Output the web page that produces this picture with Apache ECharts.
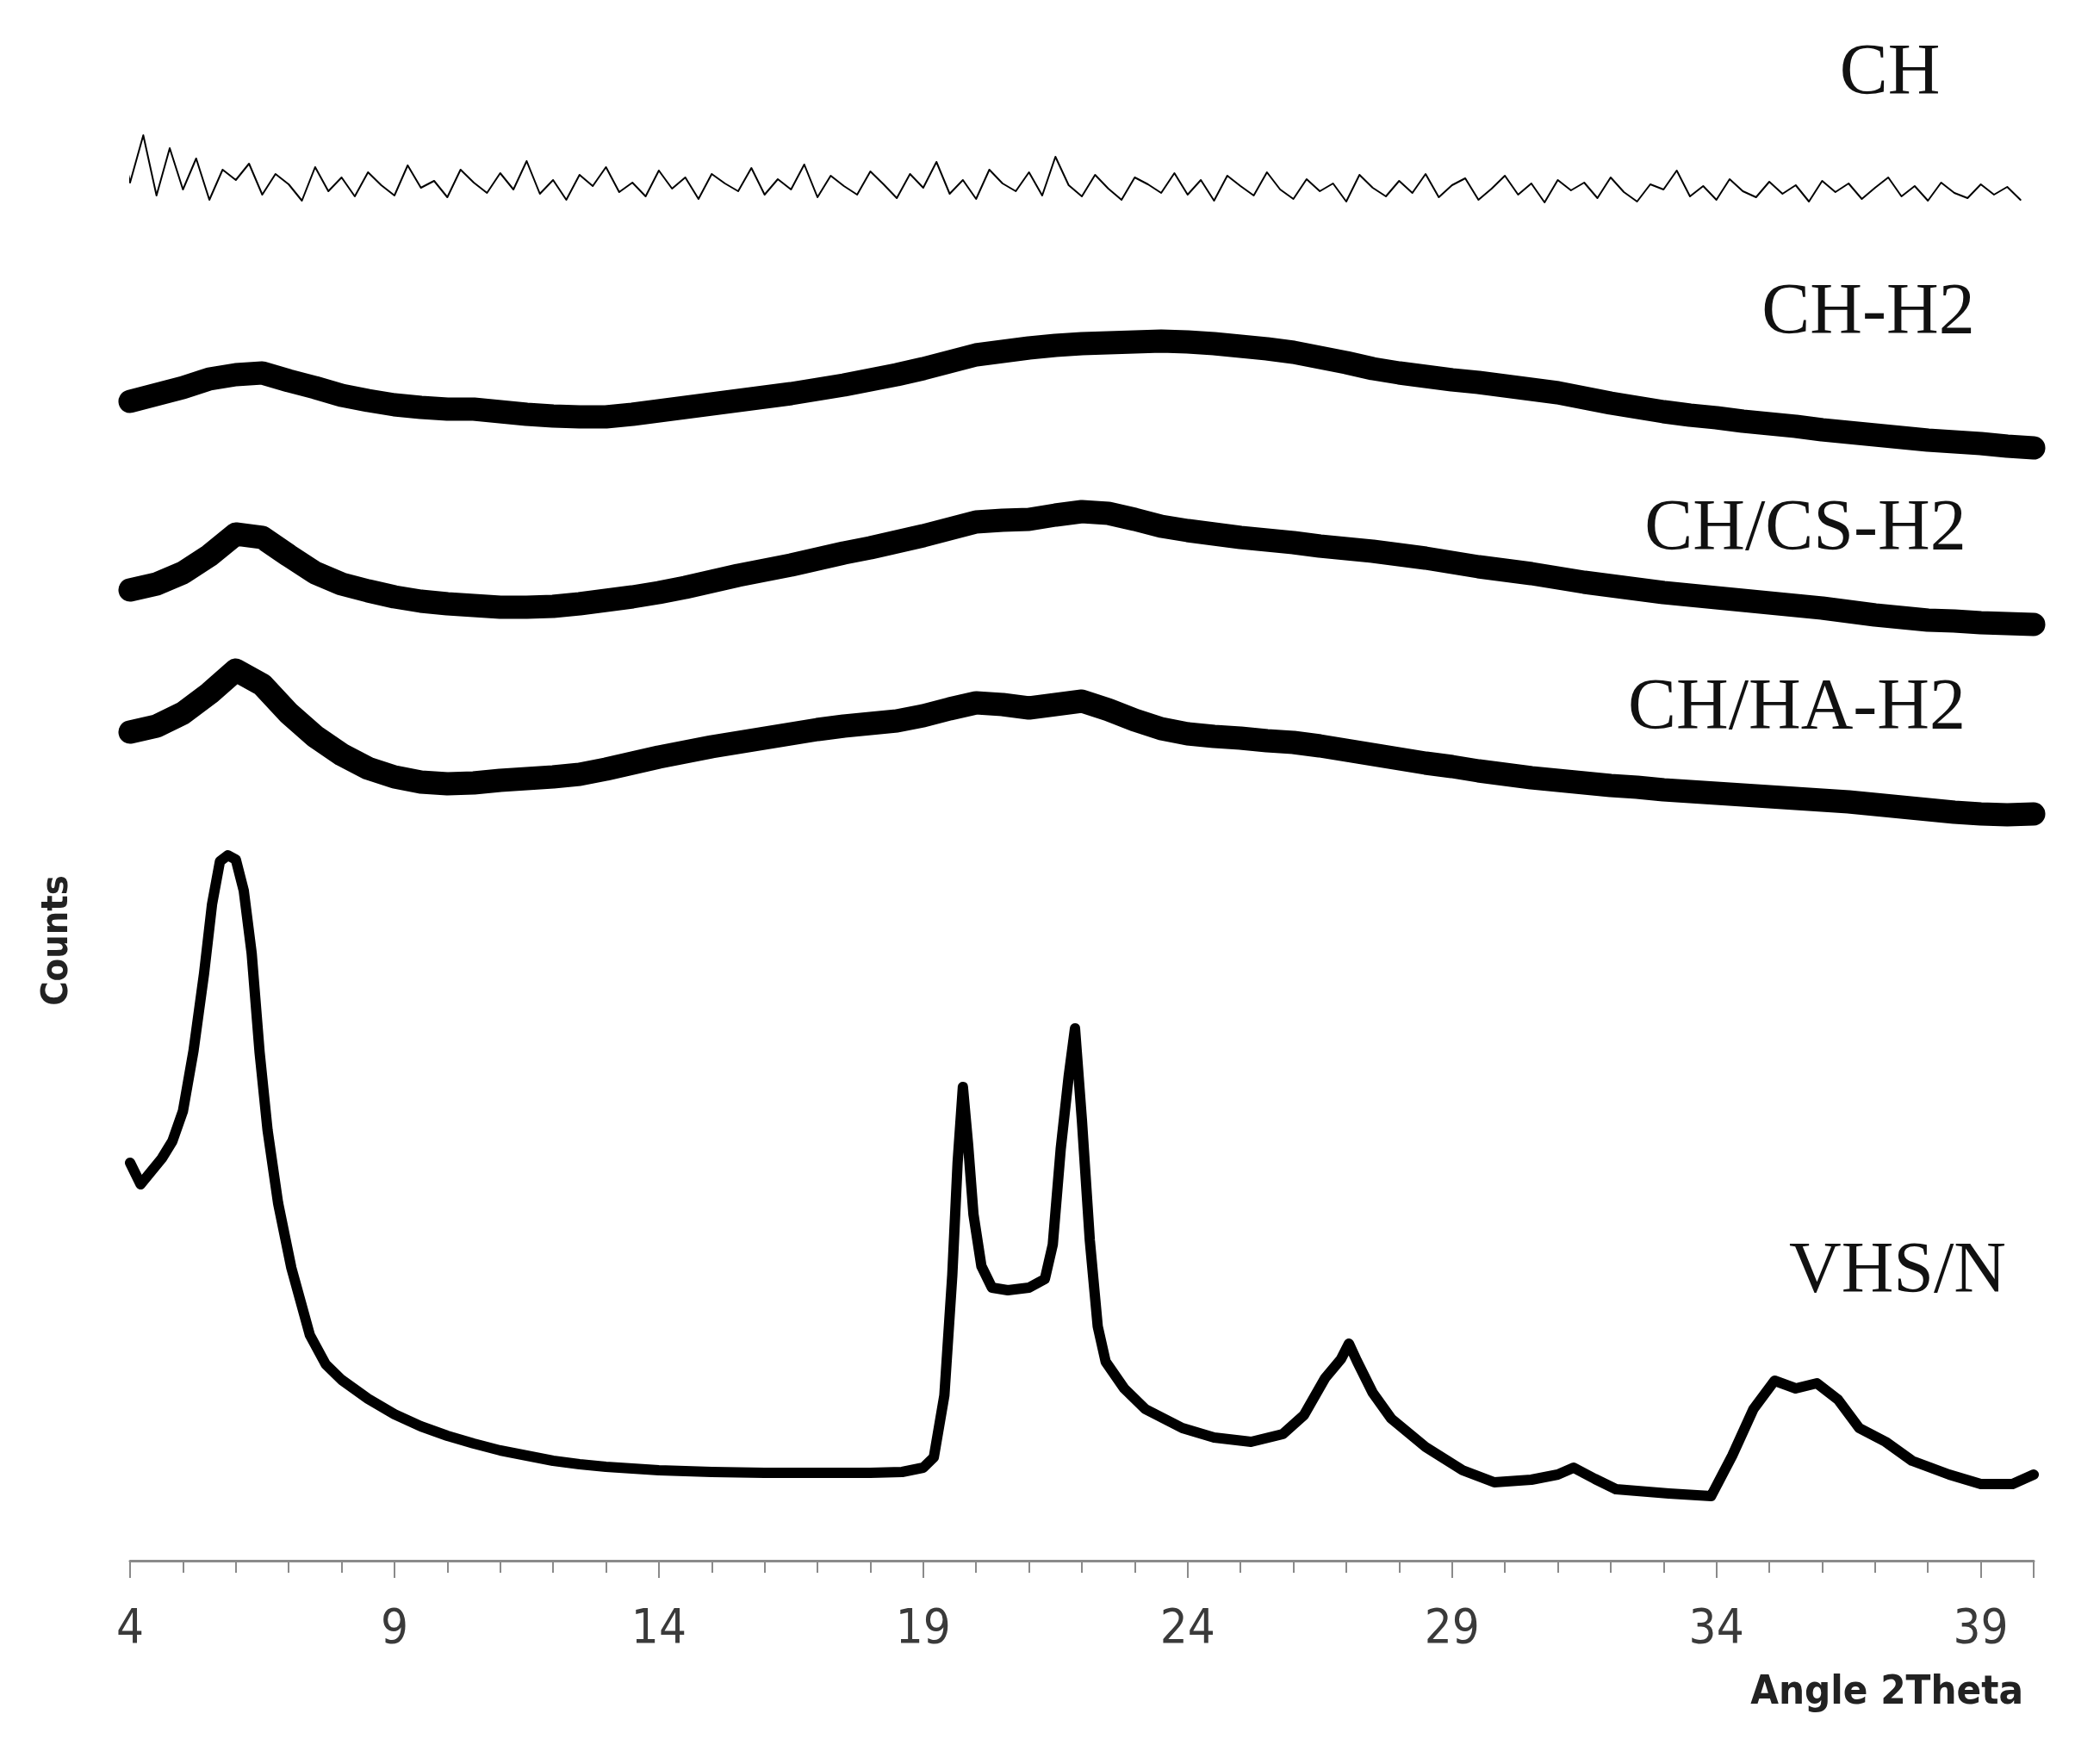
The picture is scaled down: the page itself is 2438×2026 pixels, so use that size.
<!DOCTYPE html>
<html>
<head>
<meta charset="utf-8">
<title>XRD</title>
<script src="https://cdn.jsdelivr.net/npm/echarts@6/dist/echarts.min.js"></script>
<style>
  html, body { margin: 0; padding: 0; background: #fff; }
  #main { width: 2438px; height: 2026px; }
</style>
</head>
<body>
<div id="main"></div>
<script>
// x ticks (2Theta)
var tickLabels = [4, 9, 14, 19, 24, 29, 34, 39];
var sampleNames = ["CH", "CH-H2", "CH/CS-H2", "CH/HA-H2", "VHS/N"];

// common 0.5 deg grid for the three hydrogel curves
var gridAngles = [];
for (var a = 4; a <= 40; a += 0.5) gridAngles.push(a);

// CH: 3.75 .. 39.75 every 0.25 deg (noisy flat trace)
var chStart = 3.75;
var chCounts = [1672,1600,1655,1585,1640,1592,1628,1580,1615,1603,
  1622,1586,1610,1598,1579,1618,1590,1606,1584,1612,
  1597,1585,1620,1594,1602,1583,1615,1600,1588,1611,
  1592,1625,1587,1603,1580,1609,1596,1618,1589,1600,
  1584,1614,1593,1606,1581,1610,1599,1590,1617,1586,
  1604,1592,1621,1583,1608,1596,1586,1613,1598,1582,
  1610,1594,1624,1587,1603,1581,1615,1599,1590,1612,
  1585,1630,1597,1584,1609,1593,1580,1606,1598,1588,
  1611,1586,1603,1579,1608,1596,1585,1612,1592,1581,
  1604,1590,1599,1578,1609,1594,1584,1602,1588,1610,
  1583,1597,1605,1580,1593,1608,1586,1599,1577,1603,
  1591,1600,1582,1606,1589,1578,1598,1592,1614,1584,
  1596,1580,1604,1590,1583,1601,1587,1597,1578,1602,
  1589,1599,1581,1594,1606,1584,1596,1579,1600,1588,
  1582,1598,1586,1595,1580];

var chH2Counts = [1346,1354,1362,1372,1377,1379,1370,1362,1353,1347,1342,1339,1337,1337,1334,1331,
  1329,1328,1328,1331,1335,1339,1343,1347,1351,1355,1360,1365,1371,1377,1384,1392,1400,1404,1408,1411,
  1413,1414,1415,1416,1415,1413,1410,1407,1403,1397,1391,1384,1379,1375,1371,1368,1364,1360,1356,1350,
  1344,1339,1334,1330,1327,1323,1320,1317,1313,1310,1307,1304,1301,1299,1297,1294,1292];

var chCsH2Counts = [1127,1134,1147,1167,1192,1188,1167,1147,1134,1126,1119,1114,1111,1109,1107,1107,
  1108,1111,1115,1119,1124,1130,1137,1144,1150,1156,1163,1170,1176,1183,1190,1198,1206,1208,1209,1214,
  1218,1216,1209,1201,1196,1192,1188,1185,1182,1178,1175,1172,1168,1164,1159,1154,1150,1146,1141,1136,
  1132,1128,1124,1121,1118,1115,1112,1109,1106,1102,1098,1095,1092,1091,1089,1088,1087];

var chHaH2Counts = [962,969,984,1007,1034,1017,984,957,936,920,910,904,902,903,906,908,
  910,913,919,926,933,939,945,950,955,960,965,969,972,975,981,989,996,994,990,994,
  998,988,976,966,960,957,955,952,950,946,941,936,931,926,922,917,913,909,906,903,
  900,898,895,893,891,889,887,885,883,881,878,875,872,869,867,866,867];

// VHS/N read on an uneven grid so the sharp peaks are kept
var vhsAngles = [4.0,4.2,4.4,4.6,4.8,5.0,5.2,5.4,5.55,5.7,5.85,6.0,6.15,6.3,6.45,6.6,6.8,7.05,7.4,7.7,
  8.0,8.5,9.0,9.5,10.0,10.5,11.0,11.5,12.0,12.5,13.0,14.0,15.0,16.0,17.0,18.0,18.6,19.0,19.2,19.4,
  19.55,19.65,19.75,19.85,19.95,20.1,20.3,20.6,21.0,21.3,21.45,21.6,21.75,21.87,22.0,22.15,22.3,22.45,22.8,23.2,
  23.9,24.5,25.2,25.8,26.2,26.6,26.9,27.05,27.2,27.5,27.85,28.5,29.2,29.8,30.5,31.0,31.3,31.7,32.1,33.1,
  33.9,34.3,34.7,35.1,35.5,35.9,36.3,36.7,37.2,37.7,38.4,39.0,39.6,40.0];
var vhsCounts = [462,437,452,467,487,522,592,682,762,812,819,814,778,705,590,500,415,340,262,228,
  210,188,170,156,145,136,128,122,116,112,109,105,103,102,102,102,103,108,120,192,
  332,462,550,482,402,342,317,314,317,327,367,478,562,618,512,372,272,231,200,176,
  154,143,138,147,169,212,234,252,232,195,165,132,105,91,94,100,108,95,83,78,
  75,122,176,209,200,206,187,154,138,116,100,89,89,100];

// sample label positions (px)
var labelPos = [[2194, 87], [2169, 365], [2096, 616], [2086, 824], [2203, 1478]];

function zip(xs, ys){
  var out = [];
  for (var i = 0; i < ys.length; i++) out.push([xs[i], ys[i]]);
  return out;
}
function chPoints(){
  var out = [];
  for (var i = 0; i < chCounts.length; i++) out.push([chStart + i * 0.25, chCounts[i]]);
  return out;
}
function lineSeries(name, data, width){
  return {
    name: name,
    type: "line",
    data: data,
    symbol: "none",
    clip: false,
    lineStyle: { color: "#000", width: width, join: "round", cap: "round" }
  };
}

var labelFont = "'Liberation Sans Narrow', 'DejaVu Sans Condensed', sans-serif";

window.onload = function(){
  var myChart = echarts.init(document.getElementById("main"));
  var graphics = [];
  for (var i = 0; i < sampleNames.length; i++) {
    graphics.push({
      type: "text", x: labelPos[i][0], y: labelPos[i][1],
      style: { text: sampleNames[i], fill: "#111", font: "84px 'Liberation Serif'",
        textAlign: "center", textVerticalAlign: "middle" }
    });
  }
  // axis titles
  graphics.push({
    type: "text", x: 2349, y: 1966,
    style: { text: "Angle 2Theta", fill: "#222", font: "bold 47px " + labelFont,
      textAlign: "right", textVerticalAlign: "middle" }
  });
  graphics.push({
    type: "text", x: 67, y: 1092, rotation: Math.PI / 2,
    style: { text: "Counts", fill: "#222", font: "bold 43px " + labelFont,
      textAlign: "center", textVerticalAlign: "middle" }
  });

  myChart.setOption({
    backgroundColor: "#fff",
    animation: false,
    grid: { left: 151, right: 77, top: 102, bottom: 214 },
    xAxis: [{
      type: "value", min: 4, max: 40, interval: 1,
      axisLine: { lineStyle: { color: "#8a8a8a", width: 3 } },
      axisTick: { length: 14, lineStyle: { color: "#8a8a8a", width: 2 } },
      splitLine: { show: false },
      axisLabel: {
        margin: 52, color: "#3a3a3a", fontSize: 56, fontFamily: labelFont,
        formatter: function(v){ return tickLabels.indexOf(v) >= 0 ? String(v) : ""; }
      }
    }, {
      type: "value", min: 4, max: 40, interval: 5, position: "bottom",
      axisLine: { show: false },
      axisTick: { length: 20, lineStyle: { color: "#8a8a8a", width: 2 } },
      axisLabel: { show: false },
      splitLine: { show: false }
    }],
    yAxis: {
      type: "value", min: 0, max: 1710,
      axisLine: { show: false }, axisTick: { show: false },
      axisLabel: { show: false }, splitLine: { show: false }
    },
    graphic: graphics,
    series: [
      lineSeries(sampleNames[0], chPoints(), 2),
      lineSeries(sampleNames[1], zip(gridAngles, chH2Counts), 27),
      lineSeries(sampleNames[2], zip(gridAngles, chCsH2Counts), 27),
      lineSeries(sampleNames[3], zip(gridAngles, chHaH2Counts), 27),
      lineSeries(sampleNames[4], zip(vhsAngles, vhsCounts), 12)
    ]
  });

  window.addEventListener("resize", function(){ myChart.resize(); }, false);
};
</script>
</body>
</html>
